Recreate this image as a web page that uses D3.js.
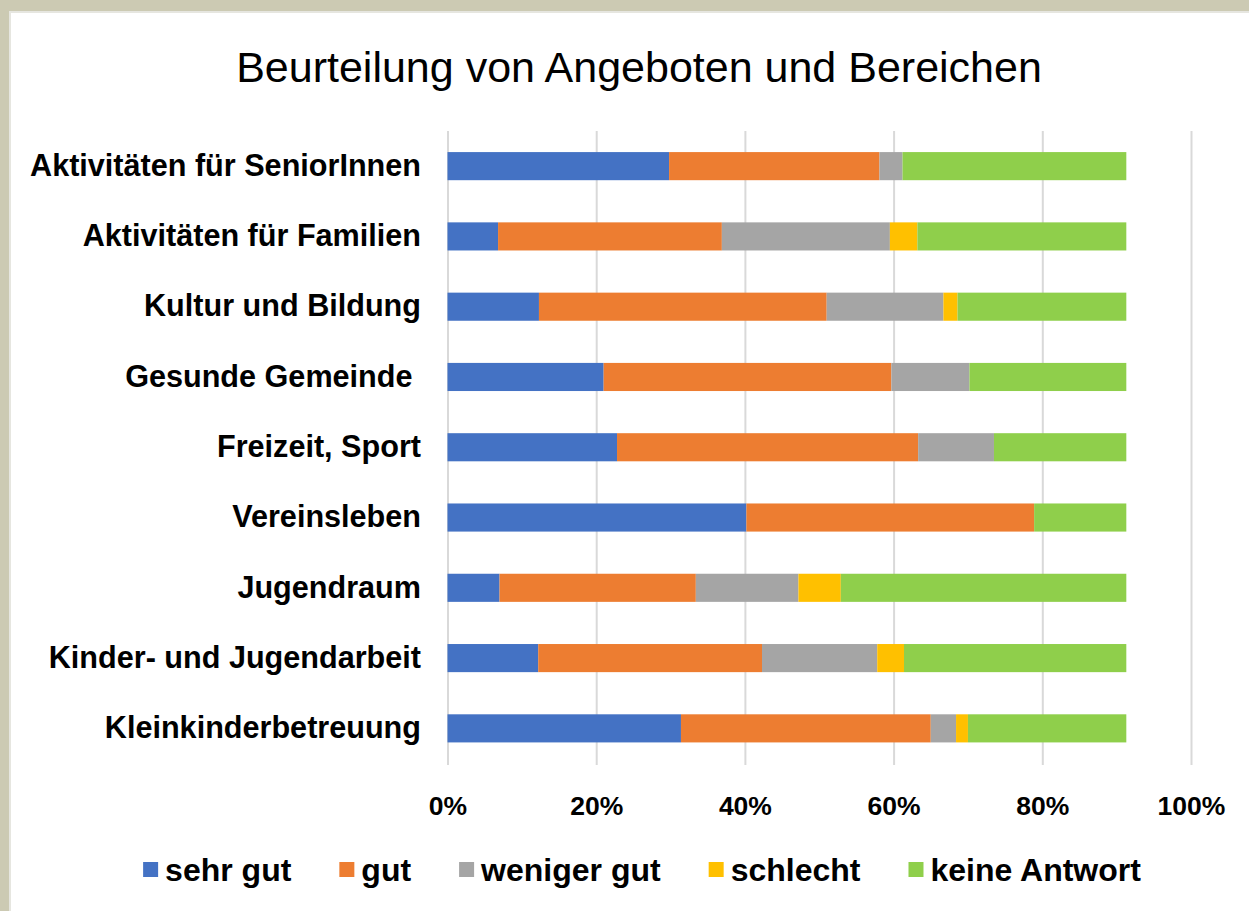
<!DOCTYPE html>
<html>
<head>
<meta charset="utf-8">
<script src="https://cdn.jsdelivr.net/npm/d3@7"></script>
<style>
  html, body { margin: 0; padding: 0; background: #cccab3; }
  svg { display: block; }
  text { font-family: "Liberation Sans", Arial, sans-serif; fill: #000; }
</style>
</head>
<body>
<svg id="chart" width="1249" height="911"></svg>
<script>
const title = "Beurteilung von Angeboten und Bereichen";
const categories = [
  "Aktivitäten für SeniorInnen",
  "Aktivitäten für Familien",
  "Kultur und Bildung",
  "Gesunde Gemeinde ",
  "Freizeit, Sport",
  "Vereinsleben",
  "Jugendraum",
  "Kinder- und Jugendarbeit",
  "Kleinkinderbetreuung"
];
const seriesNames = ["sehr gut", "gut", "weniger gut", "schlecht", "keine Antwort"];
const seriesColors = ["#4472C4", "#ED7D31", "#A5A5A5", "#FFC000", "#8FCF4B"];
const sehrGut      = [29.8, 6.8, 12.3, 21.0, 22.8, 40.2, 7.0, 12.2, 31.4];
const gut          = [28.3, 30.1, 38.7, 38.7, 40.5, 38.7, 26.4, 30.1, 33.6];
const wenigerGut   = [3.1, 22.6, 15.7, 10.5, 10.2, 0, 13.8, 15.5, 3.4];
const schlecht     = [0, 3.7, 1.9, 0, 0, 0, 5.7, 3.6, 1.6];
const keineAntwort = [30.1, 28.1, 22.7, 21.1, 17.8, 12.4, 38.4, 29.9, 21.3];
const tickValues = [0, 20, 40, 60, 80, 100];

const seriesValues = [sehrGut, gut, wenigerGut, schlecht, keineAntwort];
const rows = categories.map((c, i) => {
  const r = { cat: c };
  seriesNames.forEach((s, j) => r[s] = seriesValues[j][i]);
  return r;
});

const svg = d3.select("#chart");
// white panel with faint edge shadow
svg.append("rect").attr("x", 9).attr("y", 11).attr("width", 1240).attr("height", 900).attr("fill", "#e6e6e0");
svg.append("rect").attr("x", 11).attr("y", 13).attr("width", 1238).attr("height", 898).attr("fill", "#fff");

const x = d3.scaleLinear().domain([0, 100]).range([447.5, 1191]);
const y = d3.scaleBand().domain(categories).range([131, 763.5]).paddingInner(0.6).paddingOuter(0.3);

// gridlines
svg.append("g")
  .attr("transform", "translate(0,131)")
  .call(d3.axisBottom(x).tickValues(tickValues).tickSize(634).tickFormat(""))
  .call(g => g.select(".domain").remove())
  .call(g => g.selectAll("line").attr("stroke", "#d9d9d9").attr("stroke-width", 2));

// bars
const stack = d3.stack().keys(seriesNames)(rows);
svg.append("g").selectAll("g").data(stack).join("g")
  .attr("fill", (d, i) => seriesColors[i])
  .selectAll("rect").data(d => d).join("rect")
  .attr("x", d => x(d[0]))
  .attr("width", d => x(d[1]) - x(d[0]))
  .attr("y", d => y(d.data.cat))
  .attr("height", y.bandwidth());

// x axis labels
svg.append("g")
  .attr("transform", "translate(0,791)")
  .call(d3.axisBottom(x).tickValues(tickValues).tickSize(0).tickPadding(0).tickFormat(d => d + "%"))
  .call(g => g.select(".domain").remove())
  .call(g => g.selectAll("text")
      .attr("dy", "0.9em")
      .style("font-family", "'Liberation Sans', Arial, sans-serif")
      .style("font-size", "26.5px").style("font-weight", "bold").attr("fill", "#000"));

// category labels
svg.append("g")
  .attr("transform", "translate(421,0)")
  .call(d3.axisLeft(y).tickSize(0).tickPadding(0))
  .call(g => g.select(".domain").remove())
  .call(g => g.selectAll("text")
      .style("font-family", "'Liberation Sans', Arial, sans-serif")
      .style("font-size", "30.6px").style("font-weight", "bold")
      .style("white-space", "pre").attr("fill", "#000"));

// title
svg.append("text").attr("x", 639).attr("y", 82).attr("text-anchor", "middle")
  .style("font-size", "43px").text(title);

// legend
const lg = svg.append("g");
let cx = 0;
seriesNames.forEach((s, i) => {
  const it = lg.append("g");
  it.append("rect").attr("x", 0).attr("y", 862).attr("width", 15).attr("height", 15).attr("fill", seriesColors[i]);
  const t = it.append("text").attr("x", 22).attr("y", 881).style("font-size", "32px").style("font-weight", "bold").text(s);
  const w = t.node().getComputedTextLength();
  it.attr("transform", `translate(${cx},0)`);
  cx += 22 + w + 48;
});
const total = cx - 48;
lg.attr("transform", `translate(${642 - total / 2},0)`);
</script>
</body>
</html>
